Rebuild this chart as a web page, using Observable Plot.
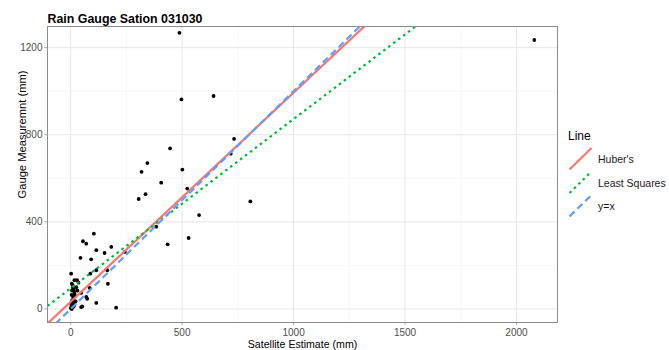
<!DOCTYPE html>
<html>
<head>
<meta charset="utf-8">
<script src="https://cdn.jsdelivr.net/npm/d3@7"></script>
<script src="https://cdn.jsdelivr.net/npm/@observablehq/plot@0.6"></script>
<style>
  html, body { margin: 0; padding: 0; background: white; }
  #chart { width: 669px; height: 350px; }
</style>
</head>
<body>
<div id="chart"></div>
<script>
// ---- data ----
const satellite = [
  2080, 488, 497, 641, 733, 718, 446, 344, 318, 501, 406, 305, 336, 523, 576, 806, 384, 529, 435, 243,
  104, 55, 70, 182, 115, 152, 44, 92, 88, 115, 164, 167, 85, 47, 74, 115, 47, 204,
  2, 5, 29, 35, 17, 14, 10, 17, 17, 11, 7, 17, 10, 5, 52, 70, 3, 8, 12, 20, 6, 25, 4, 15, 0, 22, 9, 30
];
const gauge = [
  1235, 1268, 962, 978, 781, 713, 737, 670, 630, 640, 580, 505, 527, 553, 431, 494, 378, 326, 297, 262,
  346, 311, 300, 285, 270, 257, 235, 228, 162, 178, 178, 116, 97, 74, 47, 28, 9, 6,
  162, 116, 132, 121, 132, 93, 97, 78, 70, 55, 40, 24, 9, 0, 12, 55, 20, 30, 45, 60, 85, 100, 65, 15, 5, 35, 110, 85
];
const lineNames = ["Huber's", "Least Squares", "y=x"];
const lineIntercepts = [33, 95, 0];
const lineSlopes = [0.96, 0.777, 1];
const lineColors = ["#F8766D", "#00BA38", "#619CFF"];
const lineDashes = [null, "2.6,3.6", "7,4"];
const xLimits = [-104, 2184];
const yLimits = [-62, 1297];
const xTicks = [0, 500, 1000, 1500, 2000];
const yTicks = [0, 400, 800, 1200];
const xMinorTicks = [250, 750, 1250, 1750];
const yMinorTicks = [200, 600, 1000];
const titleText = "Rain Gauge Sation 031030";
const xTitle = "Satellite Estimate (mm)";
const yTitle = "Gauge Measuremnt (mm)";
const legendTitle = "Line";

// ---- build ----
const points = satellite.map((s, i) => ({x: s, y: gauge[i]}));
const lineData = lineNames.map((n, i) =>
  xLimits.map(x => ({name: n, x, y: lineIntercepts[i] + lineSlopes[i] * x})));

const font = "'Liberation Sans', Arial, Helvetica, sans-serif";

const plot = Plot.plot({
  width: 669,
  height: 350,
  marginLeft: 47,
  marginRight: 112,
  marginTop: 26,
  marginBottom: 28,
  style: {fontFamily: font, background: "white", overflow: "visible"},
  x: {domain: xLimits, label: null},
  y: {domain: yLimits, label: null},
  marks: [
    Plot.gridX(xMinorTicks, {stroke: "#f3f3f3", strokeOpacity: 1, strokeWidth: 0.6}),
    Plot.gridY(yMinorTicks, {stroke: "#f3f3f3", strokeOpacity: 1, strokeWidth: 0.6}),
    Plot.gridX(xTicks, {stroke: "#e6e6e6", strokeOpacity: 1, strokeWidth: 1}),
    Plot.gridY(yTicks, {stroke: "#e6e6e6", strokeOpacity: 1, strokeWidth: 1}),
    Plot.axisX(xTicks, {tickSize: 3, tickPadding: 3, fontSize: 10, color: "#4d4d4d", stroke: "#b3b3b3",
      tickFormat: d => String(d), label: null}),
    Plot.axisY(yTicks, {tickSize: 3, tickPadding: 2, fontSize: 10, color: "#4d4d4d", stroke: "#b3b3b3",
      tickFormat: d => String(d), label: null}),
    Plot.dot(points, {x: "x", y: "y", r: 1.9, fill: "black", stroke: null}),
    ...lineData.map((d, i) => Plot.line(d, {
      x: "x", y: "y", stroke: lineColors[i], strokeWidth: 2.2,
      strokeDasharray: lineDashes[i] || undefined, strokeLinecap: "butt", clip: true
    })),
    Plot.frame({stroke: "#8c8c8c", strokeWidth: 1}),
    Plot.text([titleText], {frameAnchor: "top-left", dy: -4, lineAnchor: "bottom", textAnchor: "start",
      fontSize: 12.4, fontWeight: "bold", fill: "black"}),
    Plot.text([xTitle], {frameAnchor: "bottom", dy: 25, lineAnchor: "bottom", fontSize: 10.6, fill: "black"}),
    Plot.text([yTitle], {frameAnchor: "left", dx: -25, dy: 24, rotate: -90, fontSize: 11.2, fill: "black"})
  ]
});

// legend (drawn into the same SVG, to the right of the panel)
const svg = d3.select(plot);
const lg = svg.append("g").attr("transform", "translate(568,128)")
  .attr("font-family", font).attr("text-anchor", "start");
lg.append("text").attr("x", 0).attr("y", 12).attr("font-size", 12).attr("fill", "black").text(legendTitle);
lineNames.forEach((n, i) => {
  const y0 = 20 + i * 23.5;
  lg.append("line")
    .attr("x1", 1.5).attr("y1", y0 + 21.5).attr("x2", 23.5).attr("y2", y0)
    .attr("stroke", lineColors[i]).attr("stroke-width", 2.2)
    .attr("stroke-dasharray", lineDashes[i]).attr("stroke-linecap", "butt");
  lg.append("text").attr("x", 30).attr("y", y0 + 15)
    .attr("font-size", 10.5).attr("fill", "#1a1a1a").text(n);
});

document.getElementById("chart").appendChild(plot);
</script>
</body>
</html>
